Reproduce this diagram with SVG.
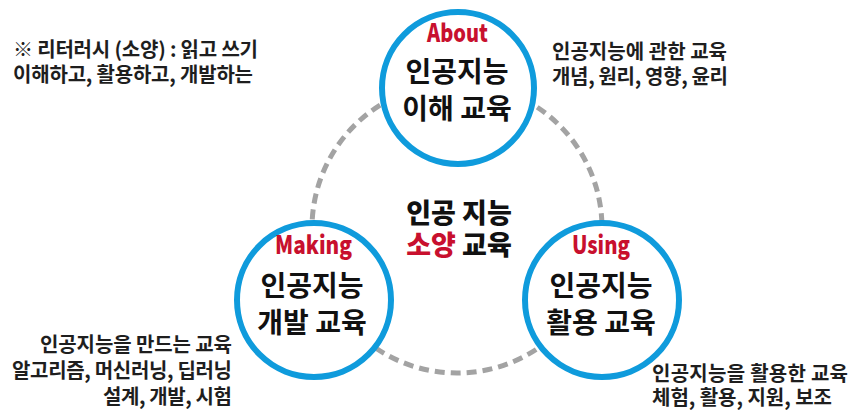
<svg xmlns="http://www.w3.org/2000/svg" width="852" height="414" viewBox="0 0 852 414">
  <style>
    text { font-family: "Noto Sans CJK KR", "Noto Sans", sans-serif; }
    .ring { fill: #ffffff; stroke: #0f9bdc; stroke-width: 6; }
    .tag { font-size: 25px; font-weight: 900; fill: #c8102e; text-anchor: middle; }
    .title { font-size: 28px; font-weight: 700; fill: #111111; text-anchor: middle; }
    .note { font-size: 20px; font-weight: 700; fill: #1e1e1e; }
    .core { font-size: 27px; font-weight: 900; fill: #111111; text-anchor: middle; }
    .accent { fill: #c8102e; }
    .dash { fill: none; stroke: #a3a3a3; stroke-width: 5; stroke-dasharray: 10 6; }
  </style>
  <rect width="852" height="414" fill="#ffffff"/>

  <!-- dashed ring linking the three areas -->
  <g id="connectors">
    <circle class="dash" cx="457" cy="228" r="145"/>
  </g>

  <!-- centre label -->
  <g id="center-label">
    <text class="core"><tspan x="459" y="223">인공 지능</tspan><tspan x="459" y="255"><tspan class="accent">소양</tspan> 교육</tspan></text>
  </g>

  <!-- About: understanding -->
  <g id="node-about">
    <circle class="ring" cx="458" cy="88" r="76"/>
    <text class="tag" x="457.5" y="42" textLength="61" lengthAdjust="spacingAndGlyphs">About</text>
    <text class="title"><tspan x="457" y="82">인공지능</tspan><tspan x="457" y="119">이해 교육</tspan></text>
  </g>

  <!-- Making: development -->
  <g id="node-making">
    <circle class="ring" cx="314" cy="300" r="77"/>
    <text class="tag" x="313.5" y="254" textLength="77" lengthAdjust="spacingAndGlyphs">Making</text>
    <text class="title"><tspan x="312" y="296">인공지능</tspan><tspan x="312" y="333">개발 교육</tspan></text>
  </g>

  <!-- Using: application -->
  <g id="node-using">
    <circle class="ring" cx="602" cy="300" r="77"/>
    <text class="tag" x="601" y="254" textLength="58" lengthAdjust="spacingAndGlyphs">Using</text>
    <text class="title"><tspan x="601" y="296">인공지능</tspan><tspan x="601" y="333">활용 교육</tspan></text>
  </g>

  <!-- side notes -->
  <g id="note-literacy">
    <text class="note"><tspan x="13" y="57" textLength="245">※ 리터러시 (소양) : 읽고 쓰기</tspan><tspan x="13" y="82" textLength="240">이해하고, 활용하고, 개발하는</tspan></text>
  </g>
  <g id="note-about">
    <text class="note"><tspan x="552" y="59" textLength="175">인공지능에 관한 교육</tspan><tspan x="552" y="84" textLength="176">개념, 원리, 영향, 윤리</tspan></text>
  </g>
  <g id="note-making">
    <text class="note" text-anchor="end"><tspan x="232" y="352" textLength="192">인공지능을 만드는 교육</tspan><tspan x="232" y="378" textLength="220">알고리즘, 머신러닝, 딥러닝</tspan><tspan x="232" y="404" textLength="129">설계, 개발, 시험</tspan></text>
  </g>
  <g id="note-using">
    <text class="note"><tspan x="652" y="381" textLength="196">인공지능을 활용한 교육</tspan><tspan x="652" y="405" textLength="180">체험, 활용, 지원, 보조</tspan></text>
  </g>
</svg>
